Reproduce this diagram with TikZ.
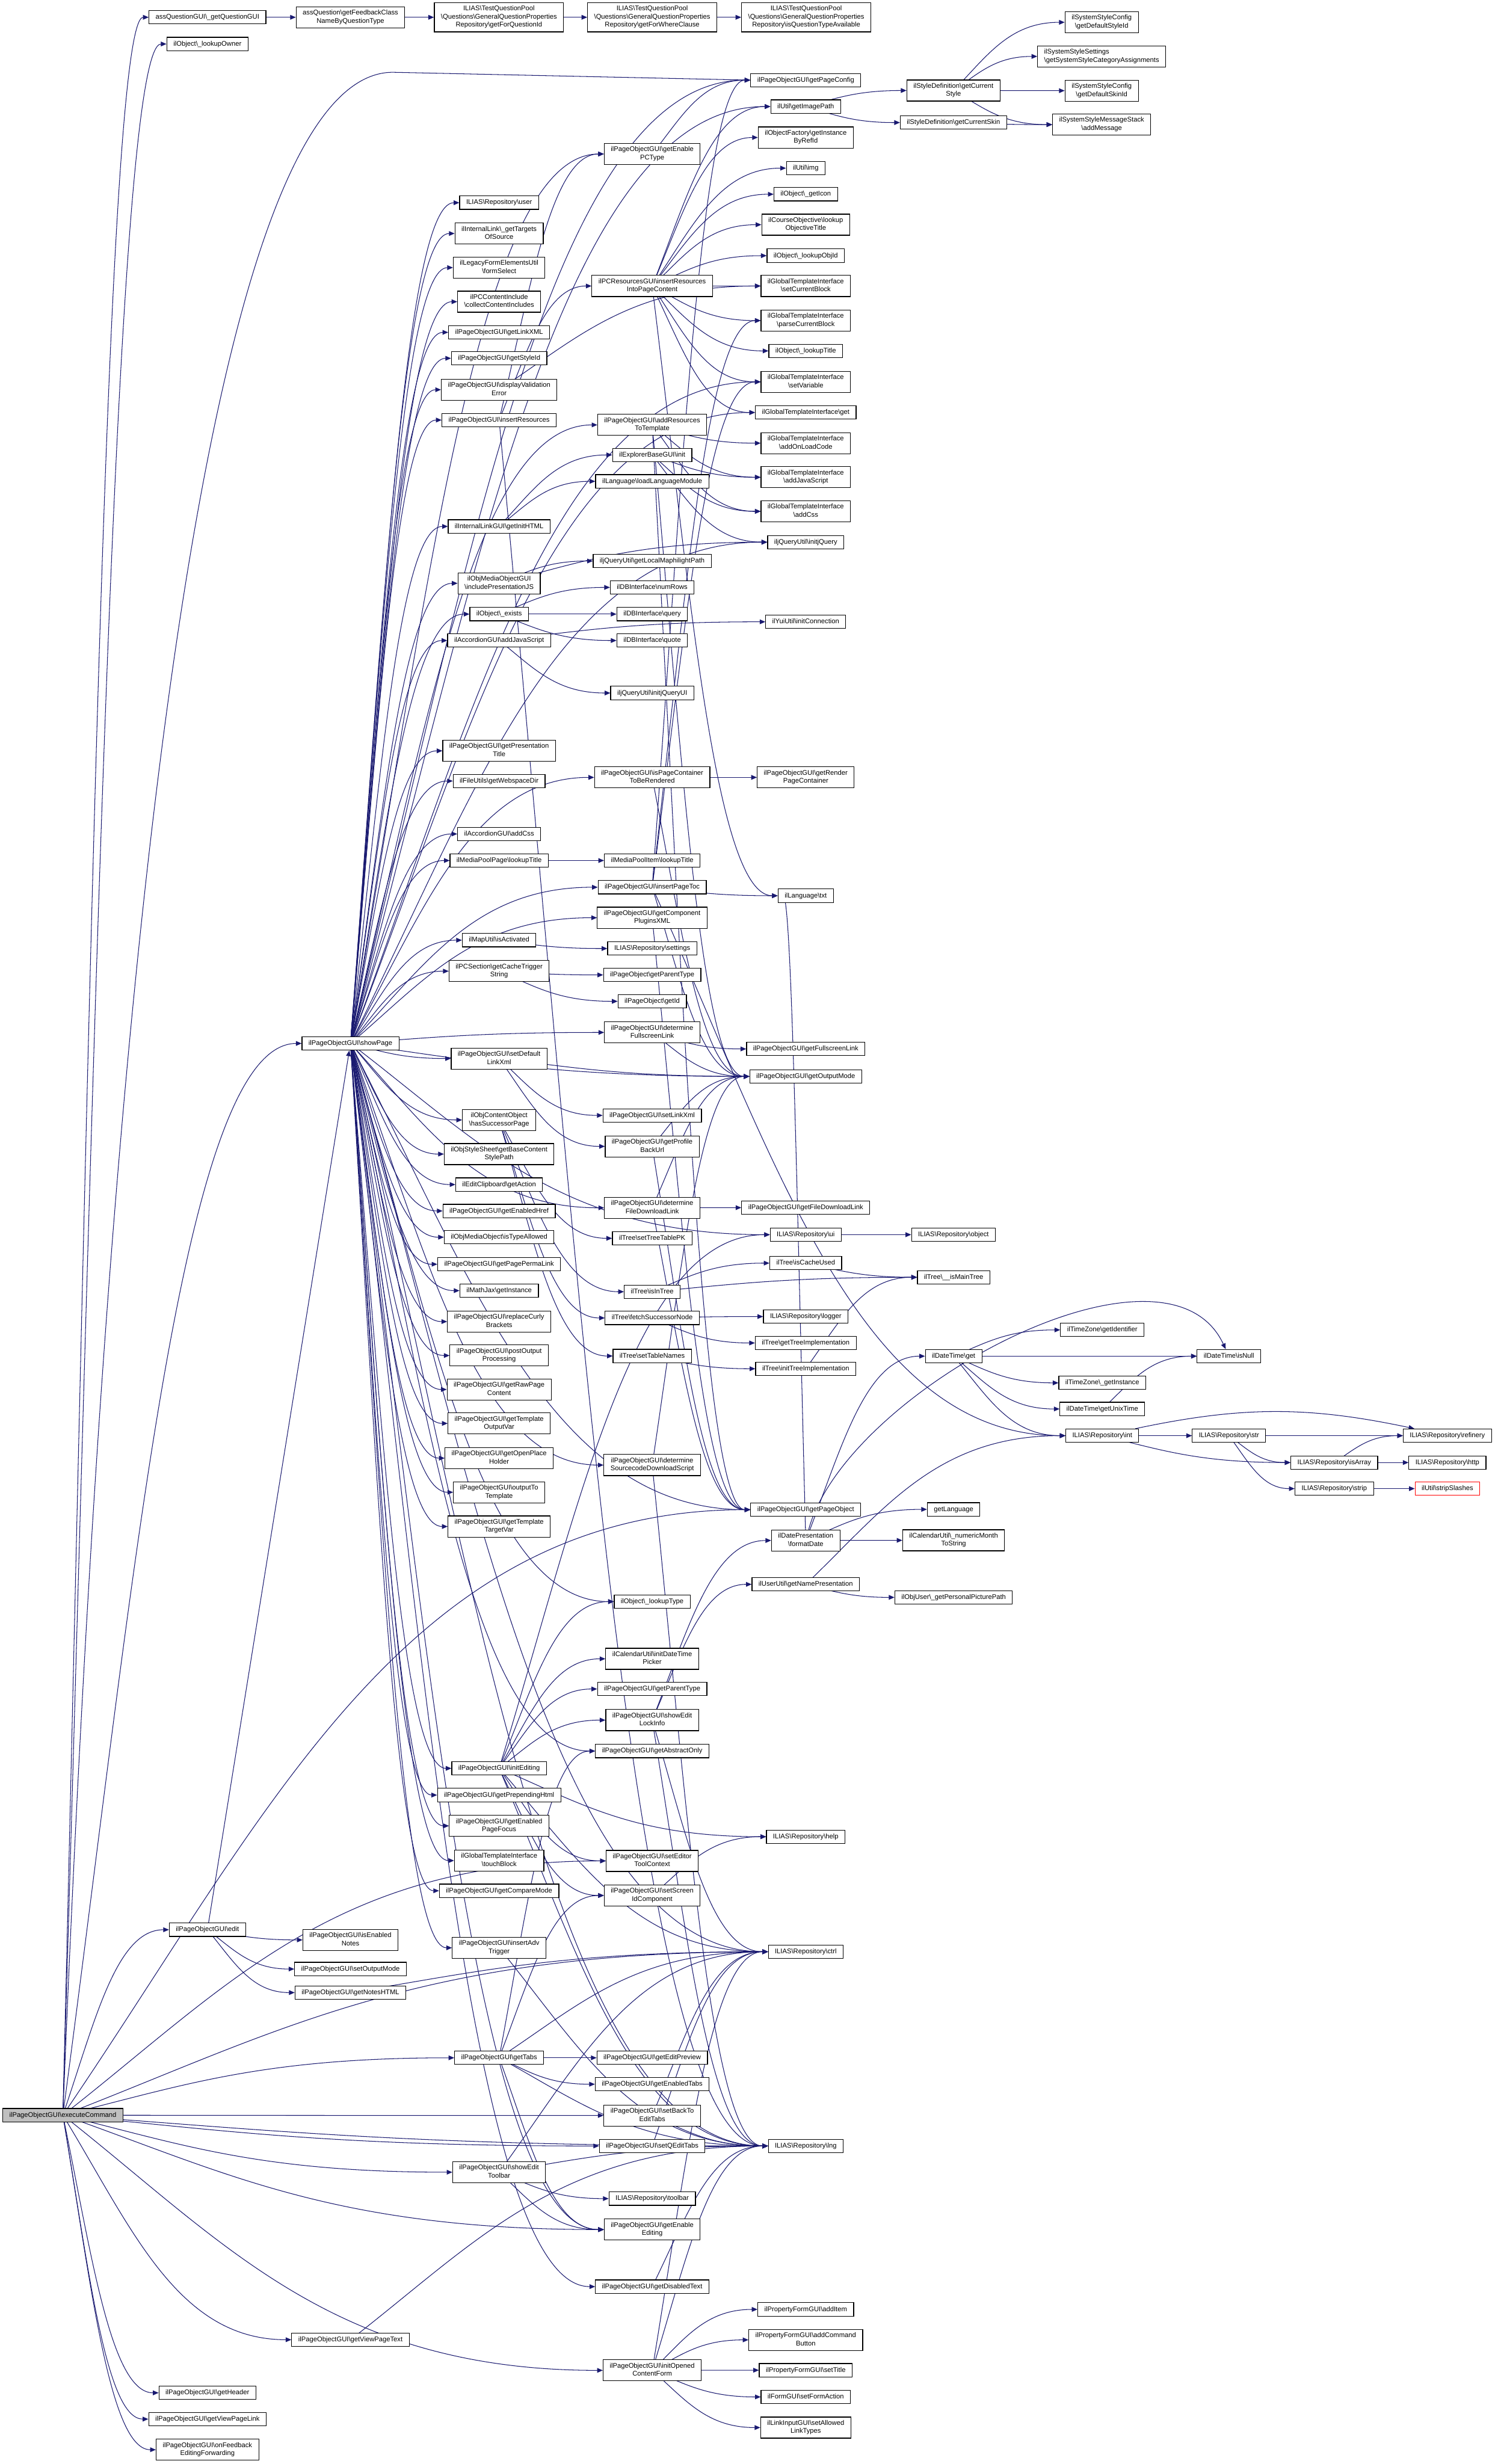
\documentclass[tikz,border=0pt]{standalone}
\usepackage{fontspec}
\setmainfont{Liberation Sans}
\usetikzlibrary{arrows.meta,calc}
\pgfdeclarelayer{bg}
\pgfsetlayers{bg,main}
\definecolor{edgec}{HTML}{191970}
\definecolor{execgray}{HTML}{BFBFBF}
\newcommand\bs{\textbackslash}
\newcommand\dstrut{\rule[-1.1pt]{0pt}{4.5pt}}
\newcommand\nodefont{\fontsize{4.3}{5.2}\selectfont}
\newcommand\E[2]{\draw[edge] let \p1=(#1.center), \p2=(#2.west) in (\p1) .. controls (\x1+0.3*\x2-0.3*\x1, \y1+0.5*\y2-0.5*\y1) and (0.5*\x2+0.5*\x1, \y2) .. (\p2);}
\begin{document}
\begin{tikzpicture}[x=1pt,y=-1pt,
  nd/.style={draw=black, line width=0.45pt, fill=white, align=center, inner xsep=4.2pt, inner ysep=2pt, font=\nodefont, execute at begin node=\dstrut, execute at end node=\dstrut},
  edge/.style={draw=edgec, line width=0.4pt, -{Triangle[length=3.6pt,width=3pt]}}]
\useasboundingbox (0,0) rectangle (951,1568);
% column A
\node[nd, fill=execgray] (exec) at (40,1346) {ilPageObjectGUI\bs executeCommand};
% column B
\node[nd] (qgui) at (132,11) {assQuestionGUI\bs\_getQuestionGUI};
\node[nd] (lowner) at (132,28) {ilObject\bs\_lookupOwner};
\node[nd] (edit) at (132,1228) {ilPageObjectGUI\bs edit};
\node[nd] (header) at (132,1522.7) {ilPageObjectGUI\bs getHeader};
\node[nd] (viewlink) at (132,1539.4) {ilPageObjectGUI\bs getViewPageLink};
\node[nd] (feedfwd) at (132,1558.9) {ilPageObjectGUI\bs onFeedback\\EditingForwarding};
% column C
\node[nd] (fbclass) at (223,11) {assQuestion\bs getFeedbackClass\\NameByQuestionType};
\node[nd] (showpage) at (223,664) {ilPageObjectGUI\bs showPage};
\node[nd] (isnotes) at (223,1234.5) {ilPageObjectGUI\bs isEnabled\\Notes};
\node[nd] (setoutmode) at (223,1253) {ilPageObjectGUI\bs setOutputMode};
\node[nd] (noteshtml) at (223,1268) {ilPageObjectGUI\bs getNotesHTML};
\node[nd] (viewtext) at (223,1488.9) {ilPageObjectGUI\bs getViewPageText};
% column D
\node[nd] (qid) at (317.5,11) {ILIAS\bs TestQuestionPool\\\bs Questions\bs GeneralQuestionProperties\\Repository\bs getForQuestionId};
\node[nd] (user) at (317.6,129) {ILIAS\bs Repository\bs user};
\node[nd] (targets) at (317.6,148.6) {ilInternalLink\bs\_getTargets\\OfSource};
\node[nd] (formsel) at (317.6,170.3) {ilLegacyFormElementsUtil\\\bs formSelect};
\node[nd] (collect) at (317.6,192) {ilPCContentInclude\\\bs collectContentIncludes};
\node[nd] (linkxml) at (317.6,211.5) {ilPageObjectGUI\bs getLinkXML};
\node[nd] (styleid) at (317.6,228) {ilPageObjectGUI\bs getStyleId};
\node[nd] (dispval) at (317.6,248) {ilPageObjectGUI\bs displayValidation\\Error};
\node[nd] (insres) at (317.6,267.3) {ilPageObjectGUI\bs insertResources};
\node[nd] (inithtml) at (317.6,335) {ilInternalLinkGUI\bs getInitHTML};
\node[nd] (inclpres) at (317.6,371.2) {ilObjMediaObjectGUI\\\bs includePresentationJS};
\node[nd] (exists) at (317.6,390.8) {ilObject\bs\_exists};
\node[nd] (accjs) at (317.6,407.6) {ilAccordionGUI\bs addJavaScript};
\node[nd] (prestitle) at (317.6,477.8) {ilPageObjectGUI\bs getPresentation\\Title};
\node[nd] (webspace) at (317.6,497) {ilFileUtils\bs getWebspaceDir};
\node[nd] (acccss) at (317.6,530.7) {ilAccordionGUI\bs addCss};
\node[nd] (mpptitle) at (317.6,547.6) {ilMediaPoolPage\bs lookupTitle};
\node[nd] (mapact) at (317.6,598.3) {ilMapUtil\bs isActivated};
\node[nd] (cachetrig) at (317.6,618) {ilPCSection\bs getCacheTrigger\\String};
\node[nd] (setdeflink) at (317.6,673.6) {ilPageObjectGUI\bs setDefault\\LinkXml};
\node[nd] (hassucc) at (317.6,712.7) {ilObjContentObject\\\bs hasSuccessorPage};
\node[nd] (basestyle) at (317.6,734.4) {ilObjStyleSheet\bs getBaseContent\\StylePath};
\node[nd] (clipact) at (317.6,753.8) {ilEditClipboard\bs getAction};
\node[nd] (enhref) at (317.6,770.6) {ilPageObjectGUI\bs getEnabledHref};
\node[nd] (typeallowed) at (317.6,787.3) {ilObjMediaObject\bs isTypeAllowed};
\node[nd] (permalink) at (317.6,804.5) {ilPageObjectGUI\bs getPagePermaLink};
\node[nd] (mathjax) at (317.6,821.3) {ilMathJax\bs getInstance};
\node[nd] (curly) at (317.6,841) {ilPageObjectGUI\bs replaceCurly\\Brackets};
\node[nd] (postout) at (317.6,862.6) {ilPageObjectGUI\bs postOutput\\Processing};
\node[nd] (rawpage) at (317.6,884.2) {ilPageObjectGUI\bs getRawPage\\Content};
\node[nd] (tplout) at (317.6,905.8) {ilPageObjectGUI\bs getTemplate\\OutputVar};
\node[nd] (openph) at (317.6,927.9) {ilPageObjectGUI\bs getOpenPlace\\Holder};
\node[nd] (outtpl) at (317.6,949.6) {ilPageObjectGUI\bs outputTo\\Template};
\node[nd] (tpltarget) at (317.6,971.4) {ilPageObjectGUI\bs getTemplate\\TargetVar};
\node[nd] (initedit) at (317.6,1125.3) {ilPageObjectGUI\bs initEditing};
\node[nd] (prepend) at (317.6,1142.3) {ilPageObjectGUI\bs getPrependingHtml};
\node[nd] (pagefocus) at (317.6,1161.9) {ilPageObjectGUI\bs getEnabled\\PageFocus};
\node[nd] (touchblock) at (317.6,1184) {ilGlobalTemplateInterface\\\bs touchBlock};
\node[nd] (comparemode) at (317.6,1203.2) {ilPageObjectGUI\bs getCompareMode};
\node[nd] (advtrigger) at (317.6,1239.5) {ilPageObjectGUI\bs insertAdv\\Trigger};
\node[nd] (gettabs) at (317.6,1309.5) {ilPageObjectGUI\bs getTabs};
\node[nd] (edittoolbar) at (317.6,1382.3) {ilPageObjectGUI\bs showEdit\\Toolbar};
% column E
\node[nd] (wherecl) at (415,11) {ILIAS\bs TestQuestionPool\\\bs Questions\bs GeneralQuestionProperties\\Repository\bs getForWhereClause};
\node[nd] (enpctype) at (415,98) {ilPageObjectGUI\bs getEnable\\PCType};
\node[nd] (iripc) at (415,182) {ilPCResourcesGUI\bs insertResources\\IntoPageContent};
\node[nd] (addres) at (415,270.4) {ilPageObjectGUI\bs addResources\\ToTemplate};
\node[nd] (explinit) at (415,289.5) {ilExplorerBaseGUI\bs init};
\node[nd] (loadlang) at (415,306.3) {ilLanguage\bs loadLanguageModule};
\node[nd] (maphl) at (415,357) {iljQueryUtil\bs getLocalMaphilightPath};
\node[nd] (numrows) at (415,373.8) {ilDBInterface\bs numRows};
\node[nd] (dbquery) at (415,390.8) {ilDBInterface\bs query};
\node[nd] (dbquote) at (415,407.6) {ilDBInterface\bs quote};
\node[nd] (jqui) at (415,441) {iljQueryUtil\bs initjQueryUI};
\node[nd] (pcont) at (415,494.7) {ilPageObjectGUI\bs isPageContainer\\ToBeRendered};
\node[nd] (mpititle) at (415,547.6) {ilMediaPoolItem\bs lookupTitle};
\node[nd] (pagetoc) at (415,564.6) {ilPageObjectGUI\bs insertPageToc};
\node[nd] (compplug) at (415,584) {ilPageObjectGUI\bs getComponent\\PluginsXML};
\node[nd] (settings) at (415,603.6) {ILIAS\bs Repository\bs settings};
\node[nd] (poparent) at (415,620.4) {ilPageObject\bs getParentType};
\node[nd] (poid) at (415,637.2) {ilPageObject\bs getId};
\node[nd] (detfull) at (415,657) {ilPageObjectGUI\bs determine\\FullscreenLink};
\node[nd] (setlinkxml) at (415,709.8) {ilPageObjectGUI\bs setLinkXml};
\node[nd] (profback) at (415,729.5) {ilPageObjectGUI\bs getProfile\\BackUrl};
\node[nd] (detfile) at (415,768.6) {ilPageObjectGUI\bs determine\\FileDownloadLink};
\node[nd] (treepk) at (415,788) {ilTree\bs setTreeTablePK};
\node[nd] (isintree) at (415,822) {ilTree\bs isInTree};
\node[nd] (fetchsucc) at (415,838.7) {ilTree\bs fetchSuccessorNode};
\node[nd] (tablenames) at (415,862.9) {ilTree\bs setTableNames};
\node[nd] (detsrc) at (415,932.3) {ilPageObjectGUI\bs determine\\SourcecodeDownloadScript};
\node[nd] (lookuptype) at (415,1019.2) {ilObject\bs\_lookupType};
\node[nd] (dtpicker) at (415,1055.6) {ilCalendarUtil\bs initDateTime\\Picker};
\node[nd] (guiparent) at (415,1074.8) {ilPageObjectGUI\bs getParentType};
\node[nd] (lockinfo) at (415,1094.6) {ilPageObjectGUI\bs showEdit\\LockInfo};
\node[nd] (abstract) at (415,1114.3) {ilPageObjectGUI\bs getAbstractOnly};
\node[nd] (toolctx) at (415,1184.2) {ilPageObjectGUI\bs setEditor\\ToolContext};
\node[nd] (screenid) at (415,1206.2) {ilPageObjectGUI\bs setScreen\\IdComponent};
\node[nd] (editpreview) at (415,1309.5) {ilPageObjectGUI\bs getEditPreview};
\node[nd] (entabs) at (415,1326.3) {ilPageObjectGUI\bs getEnabledTabs};
\node[nd] (backtabs) at (415,1346.2) {ilPageObjectGUI\bs setBackTo\\EditTabs};
\node[nd] (qedittabs) at (415,1365.6) {ilPageObjectGUI\bs setQEditTabs};
\node[nd] (toolbar) at (415,1399.1) {ILIAS\bs Repository\bs toolbar};
\node[nd] (enediting) at (415,1418.8) {ilPageObjectGUI\bs getEnable\\Editing};
\node[nd] (disabledtext) at (415,1455.1) {ilPageObjectGUI\bs getDisabledText};
\node[nd] (openedform) at (415,1508.4) {ilPageObjectGUI\bs initOpened\\ContentForm};
% column F
\node[nd] (qtavail) at (513,11) {ILIAS\bs TestQuestionPool\\\bs Questions\bs GeneralQuestionProperties\\Repository\bs isQuestionTypeAvailable};
\node[nd] (pageconfig) at (512.7,51) {ilPageObjectGUI\bs getPageConfig};
\node[nd] (imagepath) at (512.7,67.8) {ilUtil\bs getImagePath};
\node[nd] (refid) at (512.7,87.5) {ilObjectFactory\bs getInstance\\ByRefId};
\node[nd] (img) at (512.7,107) {ilUtil\bs img};
\node[nd] (geticon) at (512.7,123.6) {ilObject\bs\_getIcon};
\node[nd] (objtitle) at (512.7,143) {ilCourseObjective\bs lookup\\ObjectiveTitle};
\node[nd] (objid) at (512.7,162.7) {ilObject\bs\_lookupObjId};
\node[nd] (setblock) at (512.7,182) {ilGlobalTemplateInterface\\\bs setCurrentBlock};
\node[nd] (parseblock) at (512.7,204) {ilGlobalTemplateInterface\\\bs parseCurrentBlock};
\node[nd] (lookuptitle) at (512.7,223.3) {ilObject\bs\_lookupTitle};
\node[nd] (setvar) at (512.7,243) {ilGlobalTemplateInterface\\\bs setVariable};
\node[nd] (tplget) at (512.7,262.5) {ilGlobalTemplateInterface\bs get};
\node[nd] (onload) at (512.7,282) {ilGlobalTemplateInterface\\\bs addOnLoadCode};
\node[nd] (addjs) at (512.7,303.7) {ilGlobalTemplateInterface\\\bs addJavaScript};
\node[nd] (addcss) at (512.7,325.4) {ilGlobalTemplateInterface\\\bs addCss};
\node[nd] (jquery) at (512.7,345) {iljQueryUtil\bs initjQuery};
\node[nd] (yuiconn) at (512.7,395.7) {ilYuiUtil\bs initConnection};
\node[nd] (renderpc) at (512.7,494.7) {ilPageObjectGUI\bs getRender\\PageContainer};
\node[nd] (txt) at (512.7,570) {ilLanguage\bs txt};
\node[nd] (fulllink) at (512.7,667.5) {ilPageObjectGUI\bs getFullscreenLink};
\node[nd] (outmode) at (512.7,685) {ilPageObjectGUI\bs getOutputMode};
\node[nd] (filelink) at (512.7,768.5) {ilPageObjectGUI\bs getFileDownloadLink};
\node[nd] (ui) at (512.7,785.7) {ILIAS\bs Repository\bs ui};
\node[nd] (cacheused) at (512.7,803.8) {ilTree\bs isCacheUsed};
\node[nd] (logger) at (512.7,837.8) {ILIAS\bs Repository\bs logger};
\node[nd] (treeimpl) at (512.7,854.6) {ilTree\bs getTreeImplementation};
\node[nd] (inittreeimpl) at (512.7,871) {ilTree\bs initTreeImplementation};
\node[nd] (pageobj) at (512.7,960.7) {ilPageObjectGUI\bs getPageObject};
\node[nd] (formatdate) at (512.7,980.3) {ilDatePresentation\\\bs formatDate};
\node[nd] (namepres) at (512.7,1008.2) {ilUserUtil\bs getNamePresentation};
\node[nd] (help) at (512.7,1168.8) {ILIAS\bs Repository\bs help};
\node[nd] (ctrl) at (512.7,1242) {ILIAS\bs Repository\bs ctrl};
\node[nd] (lng) at (512.7,1365.6) {ILIAS\bs Repository\bs lng};
\node[nd] (additem) at (512.7,1469.6) {ilPropertyFormGUI\bs addItem};
\node[nd] (addcmd) at (512.7,1489) {ilPropertyFormGUI\bs addCommand\\Button};
\node[nd] (settitle) at (512.7,1508.3) {ilPropertyFormGUI\bs setTitle};
\node[nd] (formaction) at (512.7,1525.3) {ilFormGUI\bs setFormAction};
\node[nd] (linktypes) at (512.7,1544.8) {ilLinkInputGUI\bs setAllowed\\LinkTypes};
% column G
\node[nd] (curstyle) at (606.7,57.6) {ilStyleDefinition\bs getCurrent\\Style};
\node[nd] (curskin) at (606.7,78) {ilStyleDefinition\bs getCurrentSkin};
\node[nd] (object) at (606.7,785.7) {ILIAS\bs Repository\bs object};
\node[nd] (maintree) at (606.8,812.8) {ilTree\bs\_\_isMainTree};
\node[nd] (dtget) at (606.8,863) {ilDateTime\bs get};
\node[nd] (getlang) at (606.8,960.5) {getLanguage};
\node[nd] (nummonth) at (606.8,980.2) {ilCalendarUtil\bs\_numericMonth\\ToString};
\node[nd] (picpath) at (606.8,1016.5) {ilObjUser\bs\_getPersonalPicturePath};
% column H
\node[nd] (defstyle) at (701,14.2) {ilSystemStyleConfig\\\bs getDefaultStyleId};
\node[nd, align=left] (stylecat) at (701,35.9) {ilSystemStyleSettings\\\bs getSystemStyleCategoryAssignments};
\node[nd] (defskin) at (701,57.7) {ilSystemStyleConfig\\\bs getDefaultSkinId};
\node[nd] (addmsg) at (701,79.3) {ilSystemStyleMessageStack\\\bs addMessage};
\node[nd] (tzid) at (701.4,846.3) {ilTimeZone\bs getIdentifier};
\node[nd] (tzinst) at (701.4,880) {ilTimeZone\bs\_getInstance};
\node[nd] (unixtime) at (701.4,896.6) {ilDateTime\bs getUnixTime};
\node[nd] (int) at (701.4,913.6) {ILIAS\bs Repository\bs int};
% columns I-K
\node[nd] (isnull) at (782,863) {ilDateTime\bs isNull};
\node[nd] (str) at (782,913.6) {ILIAS\bs Repository\bs str};
\node[nd] (isarray) at (849,930.7) {ILIAS\bs Repository\bs isArray};
\node[nd] (strip) at (849,947.3) {ILIAS\bs Repository\bs strip};
\node[nd] (refinery) at (921,913.6) {ILIAS\bs Repository\bs refinery};
\node[nd] (http) at (921,930.7) {ILIAS\bs Repository\bs http};
\node[nd, draw=red] (stripslashes) at (921,947.3) {ilUtil\bs stripSlashes};

\begin{pgfonlayer}{bg}
\fill[white] (0,0) rectangle (951,1568);
% executeCommand
\E{exec}{qgui}\E{exec}{lowner}\E{exec}{showpage}\E{exec}{edit}
\draw[edge] (exec) .. controls (70,600) and (130,46) .. (250,46) -- (pageconfig.west);
\E{exec}{gettabs}\E{exec}{toolctx}\E{exec}{ctrl}\E{exec}{backtabs}\E{exec}{qedittabs}
\E{exec}{edittoolbar}\E{exec}{enediting}\E{exec}{lng}\E{exec}{viewtext}\E{exec}{openedform}
\E{exec}{header}\E{exec}{viewlink}\E{exec}{feedfwd}\E{exec}{pageobj}
% question chain
\E{qgui}{fbclass}\E{fbclass}{qid}\E{qid}{wherecl}\E{wherecl}{qtavail}
% edit
\draw[edge] (edit) -- (showpage);
\E{edit}{isnotes}\E{edit}{setoutmode}\E{edit}{noteshtml}\E{noteshtml}{ctrl}
% showPage
\E{showpage}{user}\E{showpage}{targets}\E{showpage}{formsel}\E{showpage}{collect}
\E{showpage}{linkxml}\E{showpage}{styleid}\E{showpage}{dispval}\E{showpage}{insres}
\E{showpage}{inithtml}\E{showpage}{inclpres}\E{showpage}{exists}\E{showpage}{accjs}
\E{showpage}{prestitle}\E{showpage}{webspace}\E{showpage}{acccss}\E{showpage}{mpptitle}
\E{showpage}{mapact}\E{showpage}{cachetrig}\E{showpage}{setdeflink}\E{showpage}{hassucc}
\E{showpage}{basestyle}\E{showpage}{clipact}\E{showpage}{enhref}\E{showpage}{typeallowed}
\E{showpage}{permalink}\E{showpage}{mathjax}\E{showpage}{curly}\E{showpage}{postout}
\E{showpage}{rawpage}\E{showpage}{tplout}\E{showpage}{openph}\E{showpage}{outtpl}
\E{showpage}{tpltarget}\E{showpage}{initedit}\E{showpage}{prepend}\E{showpage}{pagefocus}
\E{showpage}{touchblock}\E{showpage}{comparemode}\E{showpage}{advtrigger}
\E{showpage}{enpctype}\E{showpage}{addres}\E{showpage}{pcont}\E{showpage}{pagetoc}
\E{showpage}{compplug}\E{showpage}{detfull}\E{showpage}{detfile}\E{showpage}{detsrc}
\E{showpage}{lookuptype}\E{showpage}{abstract}\E{showpage}{disabledtext}\E{showpage}{enediting}
\E{showpage}{pageconfig}\E{showpage}{imagepath}\E{showpage}{setvar}\E{showpage}{tplget}
\E{showpage}{jquery}\E{showpage}{outmode}\E{showpage}{pageobj}\E{showpage}{ui}
\E{showpage}{ctrl}\E{showpage}{lng}
% column D callees
\E{insres}{enpctype}\E{insres}{iripc}\E{insres}{lng}
\E{enpctype}{pageconfig}
\E{iripc}{imagepath}\E{iripc}{refid}\E{iripc}{img}\E{iripc}{geticon}\E{iripc}{objtitle}
\E{iripc}{objid}\E{iripc}{setblock}\E{iripc}{parseblock}\E{iripc}{lookuptitle}
\E{iripc}{setvar}\E{iripc}{tplget}\E{iripc}{txt}
\E{dispval}{setblock}
\E{addres}{onload}\E{addres}{addjs}\E{addres}{addcss}\E{addres}{outmode}\E{addres}{pageobj}
\E{explinit}{jquery}\E{explinit}{addjs}\E{explinit}{addcss}
\E{inithtml}{explinit}\E{inithtml}{loadlang}
\E{inclpres}{maphl}\E{inclpres}{jquery}
\E{exists}{numrows}\E{exists}{dbquery}\E{exists}{dbquote}
\E{accjs}{jqui}\E{accjs}{yuiconn}
\E{pcont}{renderpc}\E{pcont}{outmode}
\E{mpptitle}{mpititle}
\E{pagetoc}{setvar}\E{pagetoc}{parseblock}\E{pagetoc}{txt}\E{pagetoc}{int}\E{pagetoc}{outmode}\E{pagetoc}{pageconfig}
\E{compplug}{pageobj}
\E{mapact}{settings}
\E{cachetrig}{poparent}\E{cachetrig}{poid}
\E{detfull}{fulllink}\E{detfull}{outmode}
\E{setdeflink}{setlinkxml}\E{setdeflink}{profback}\E{setdeflink}{outmode}
\E{hassucc}{treepk}\E{hassucc}{isintree}\E{hassucc}{fetchsucc}\E{hassucc}{tablenames}
\E{profback}{outmode}\E{profback}{pageobj}
\E{detfile}{filelink}\E{detfile}{outmode}\E{detfile}{pageobj}
\E{isintree}{cacheused}\E{isintree}{maintree}
\E{cacheused}{maintree}
\E{fetchsucc}{logger}\E{fetchsucc}{treeimpl}
\E{tablenames}{inittreeimpl}
\E{inittreeimpl}{maintree}
\E{ui}{object}
\E{detsrc}{outmode}\E{detsrc}{lng}
% dates
\E{formatdate}{getlang}\E{formatdate}{nummonth}\E{formatdate}{dtget}\E{formatdate}{txt}
\draw[edge] (formatdate) to[out=75,in=115,looseness=0.8] (isnull);
\E{namepres}{picpath}\E{namepres}{int}
\E{dtget}{tzid}\E{dtget}{isnull}\E{dtget}{tzinst}\E{dtget}{unixtime}\E{dtget}{int}
\E{unixtime}{isnull}
\E{int}{str}\E{int}{isarray}
\draw[edge] (int) to[out=12,in=168] (refinery);
\E{str}{refinery}\E{str}{isarray}\E{str}{strip}
\E{isarray}{refinery}\E{isarray}{http}
\E{strip}{stripslashes}
% editing
\E{lockinfo}{namepres}\E{lockinfo}{formatdate}\E{lockinfo}{ctrl}\E{lockinfo}{lng}
\E{initedit}{lookuptype}\E{initedit}{dtpicker}\E{initedit}{guiparent}\E{initedit}{lockinfo}
\E{initedit}{toolctx}\E{initedit}{screenid}\E{initedit}{help}\E{initedit}{ctrl}
\E{initedit}{lng}\E{initedit}{ui}
\E{screenid}{help}
\E{gettabs}{editpreview}\E{gettabs}{entabs}\E{gettabs}{ctrl}\E{gettabs}{screenid}
\E{gettabs}{abstract}\E{gettabs}{enediting}\E{gettabs}{lng}
\E{advtrigger}{lng}
\E{backtabs}{lng}\E{backtabs}{ctrl}
\E{qedittabs}{lng}\E{qedittabs}{ctrl}
\E{edittoolbar}{toolbar}\E{edittoolbar}{enediting}\E{edittoolbar}{lng}\E{edittoolbar}{ctrl}
\E{disabledtext}{lng}
\E{viewtext}{lng}
\E{openedform}{additem}\E{openedform}{addcmd}\E{openedform}{settitle}\E{openedform}{formaction}
\E{openedform}{linktypes}\E{openedform}{lng}\E{openedform}{ctrl}
% styles
\E{imagepath}{curstyle}\E{imagepath}{curskin}
\E{curstyle}{defstyle}\E{curstyle}{stylecat}\E{curstyle}{defskin}\E{curstyle}{addmsg}
\E{curskin}{addmsg}
\end{pgfonlayer}
\end{tikzpicture}
\end{document}
